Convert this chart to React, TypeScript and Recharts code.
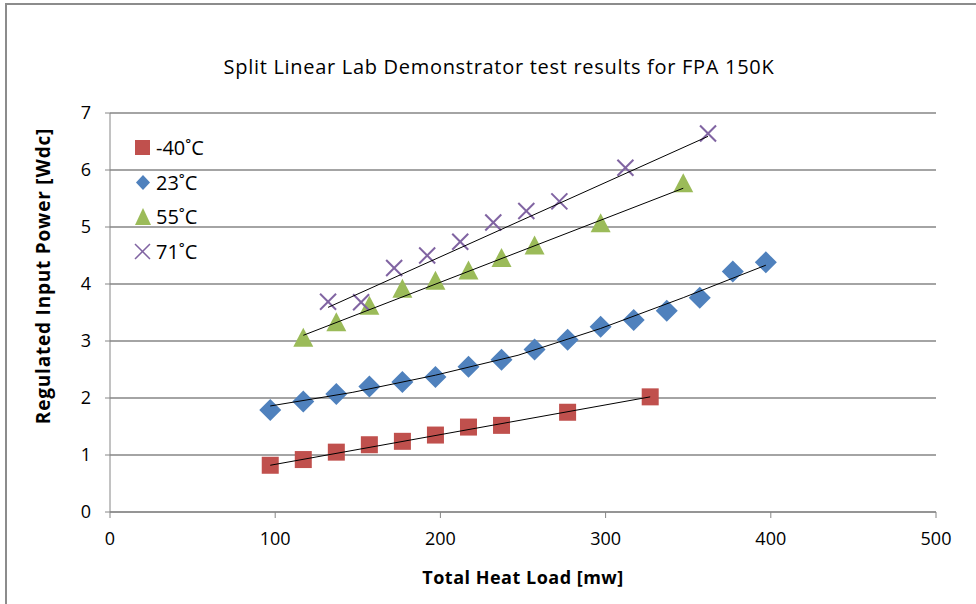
import {
  ScatterChart,
  Scatter,
  XAxis,
  YAxis,
  CartesianGrid,
} from "recharts";

// heat load [mW] and regulated input power [Wdc] per ambient temperature
const loadM40 = [97, 117, 137, 157, 177, 197, 217, 237, 277, 327];
const powerM40 = [0.82, 0.92, 1.05, 1.18, 1.24, 1.35, 1.49, 1.52, 1.75, 2.02];

const load23 = [97, 117, 137, 157, 177, 197, 217, 237, 257, 277, 297, 317, 337, 357, 377, 397];
const power23 = [1.79, 1.94, 2.07, 2.2, 2.28, 2.37, 2.55, 2.67, 2.85, 3.02, 3.25, 3.37, 3.53, 3.76, 4.22, 4.38];

const load55 = [117, 137, 157, 177, 197, 217, 237, 257, 297, 347];
const power55 = [3.04, 3.31, 3.6, 3.9, 4.04, 4.22, 4.44, 4.66, 5.05, 5.75];

const load71 = [132, 152, 172, 192, 212, 232, 252, 272, 312, 362];
const power71 = [3.69, 3.68, 4.28, 4.5, 4.74, 5.08, 5.28, 5.45, 6.04, 6.64];

// trendlines
const trendLoadM40 = [97, 327];
const trendPowerM40 = [0.82, 2.02];
const trendLoad23 = [97, 147, 197, 247, 297, 347, 397];
const trendPower23 = [1.86, 2.1, 2.4, 2.75, 3.22, 3.76, 4.33];
const trendLoad55 = [117, 347];
const trendPower55 = [3.1, 5.68];
const trendLoad71 = [132, 362];
const trendPower71 = [3.59, 6.59];

const xTicks = [0, 100, 200, 300, 400, 500];
const yTicks = [0, 1, 2, 3, 4, 5, 6, 7];

const toPoints = (xs: number[], ys: number[]) => xs.map((x, i) => ({ x, y: ys[i] }));

const RED = "#C0504D";
const BLUE = "#4F81BD";
const GREEN = "#9BBB59";
const PURPLE = "#8064A2";
const GRID = "#868686";
const FONT = "'Open Sans', sans-serif";

// eslint-disable-next-line @typescript-eslint/no-explicit-any
const Square = ({ cx, cy }: any) => (
  <rect x={cx - 8.5} y={cy - 8.5} width={17} height={17} fill={RED} />
);

// eslint-disable-next-line @typescript-eslint/no-explicit-any
const Diamond = ({ cx, cy }: any) => (
  <polygon
    points={`${cx},${cy - 11} ${cx + 11},${cy} ${cx},${cy + 11} ${cx - 11},${cy}`}
    fill={BLUE}
  />
);

// eslint-disable-next-line @typescript-eslint/no-explicit-any
const Triangle = ({ cx, cy }: any) => (
  <polygon
    points={`${cx},${cy - 11} ${cx + 10},${cy + 8} ${cx - 10},${cy + 8}`}
    fill={GREEN}
  />
);

// eslint-disable-next-line @typescript-eslint/no-explicit-any
const Cross = ({ cx, cy }: any) => (
  <g stroke={PURPLE} strokeWidth={2}>
    <line x1={cx - 8} y1={cy - 8} x2={cx + 8} y2={cy + 8} />
    <line x1={cx - 8} y1={cy + 8} x2={cx + 8} y2={cy - 8} />
  </g>
);

const Nothing = () => <g />;

const legendItems = [
  { name: "-40˚C", icon: <rect x={2} y={2} width={15} height={15} fill={RED} /> },
  { name: "23˚C", icon: <polygon points="10,2 17,9.5 10,17 3,9.5" fill={BLUE} /> },
  { name: "55˚C", icon: <polygon points="10,1 18,18 2,18" fill={GREEN} /> },
  {
    name: "71˚C",
    icon: (
      <g stroke={PURPLE} strokeWidth={1.5}>
        <line x1={2} y1={2} x2={17} y2={17} />
        <line x1={2} y1={17} x2={17} y2={2} />
      </g>
    ),
  },
];

const App = () => {
  return (
    <div
      style={{
        position: "fixed",
        left: 0,
        top: 0,
        width: 976,
        height: 604,
        overflow: "hidden",
        background: "#fff",
        fontFamily: FONT,
      }}
    >
      <div
        style={{
          position: "absolute",
          left: 5,
          top: 3,
          width: 1200,
          height: 1000,
          border: "2px solid #8c8c8c",
        }}
      />
      <div
        style={{
          position: "absolute",
          left: 0,
          width: 998,
          top: 53,
          textAlign: "center",
          fontSize: 20,
          letterSpacing: 0.7,
          color: "#000",
        }}
      >
        Split Linear Lab Demonstrator test results for FPA 150K
      </div>
      <div
        style={{
          position: "absolute",
          left: 373,
          width: 300,
          top: 565,
          textAlign: "center",
          fontSize: 18,
          letterSpacing: 0.5,
          fontWeight: 700,
          color: "#000",
        }}
      >
        Total Heat Load [mw]
      </div>
      <div
        style={{
          position: "absolute",
          left: 43 - 170,
          width: 340,
          top: 276 - 13,
          textAlign: "center",
          fontSize: 19,
          letterSpacing: 0.8,
          fontWeight: 700,
          color: "#000",
          transform: "rotate(-90deg)",
        }}
      >
        Regulated Input Power [Wdc]
      </div>
      <div style={{ position: "absolute", left: 0, top: 0 }}>
        <ScatterChart
          width={976}
          height={604}
          margin={{ top: 113, right: 40, bottom: 32, left: 50 }}
        >
          <CartesianGrid vertical={false} stroke={GRID} strokeWidth={1.3} />
          <XAxis
            type="number"
            dataKey="x"
            domain={[0, 500]}
            ticks={xTicks}
            height={60}
            stroke={GRID}
            tickSize={6}
            tickMargin={14}
            tick={{ fill: "#000", fontSize: 18, fontFamily: FONT }}
          />
          <YAxis
            type="number"
            dataKey="y"
            domain={[0, 7]}
            ticks={yTicks}
            width={60}
            stroke={GRID}
            tickSize={5}
            tickMargin={14}
            tick={{ fill: "#000", fontSize: 18, fontFamily: FONT }}
          />
          <Scatter name="-40˚C" data={toPoints(loadM40, powerM40)} shape={Square} isAnimationActive={false} />
          <Scatter name="23˚C" data={toPoints(load23, power23)} shape={Diamond} isAnimationActive={false} />
          <Scatter name="55˚C" data={toPoints(load55, power55)} shape={Triangle} isAnimationActive={false} />
          <Scatter name="71˚C" data={toPoints(load71, power71)} shape={Cross} isAnimationActive={false} />
          <Scatter data={toPoints(trendLoadM40, trendPowerM40)} line={{ stroke: "#000", strokeWidth: 1 }} shape={Nothing} legendType="none" isAnimationActive={false} />
          <Scatter data={toPoints(trendLoad23, trendPower23)} line={{ stroke: "#000", strokeWidth: 1 }} shape={Nothing} legendType="none" isAnimationActive={false} />
          <Scatter data={toPoints(trendLoad55, trendPower55)} line={{ stroke: "#000", strokeWidth: 1 }} shape={Nothing} legendType="none" isAnimationActive={false} />
          <Scatter data={toPoints(trendLoad71, trendPower71)} line={{ stroke: "#000", strokeWidth: 1 }} shape={Nothing} legendType="none" isAnimationActive={false} />
        </ScatterChart>
      </div>
      <div style={{ position: "absolute", left: 133, top: 131 }}>
        {legendItems.map((item) => (
          <div
            key={item.name}
            style={{ display: "flex", alignItems: "center", height: 34.5 }}
          >
            <svg width={20} height={20} style={{ marginRight: 3 }}>
              {item.icon}
            </svg>
            <span style={{ fontSize: 20, color: "#000", lineHeight: "20px" }}>
              {item.name}
            </span>
          </div>
        ))}
      </div>
    </div>
  );
};

export default App;
